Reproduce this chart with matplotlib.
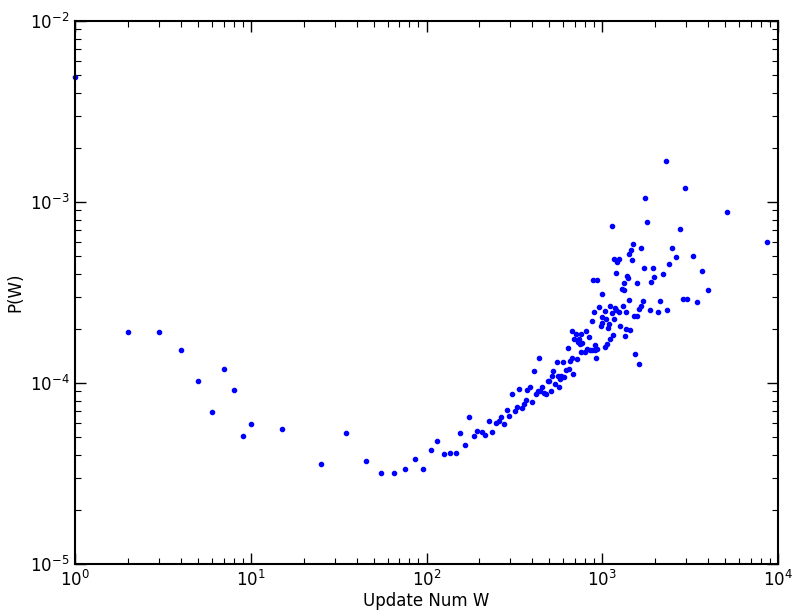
import matplotlib
matplotlib.use("Agg")
import matplotlib.pyplot as plt

# update count W and its estimated probability P(W)
update_num = [
    1, 2, 3, 4, 5, 6, 7, 8, 9, 10, 15, 25, 35, 45, 55, 65, 75, 86, 95,
    106, 115, 126, 136, 147, 156, 165, 175, 186, 195, 206, 216, 226, 236,
    248, 258, 266, 277, 286, 294, 308, 318, 327, 337, 348, 357, 368, 375,
    386, 398, 410, 418, 429, 435, 442, 456, 468, 477, 491, 498, 513, 520,
    527, 536, 551, 560, 567, 573, 583, 600, 606, 622, 635, 644, 653, 670,
    673, 684, 693, 706, 716, 725, 738, 750, 754, 760, 770, 795, 812, 815,
    844, 855, 875, 878, 889, 901, 909, 914, 925, 937, 937, 962, 980, 997,
    997, 1000, 1038, 1042, 1050, 1064, 1074, 1089, 1107, 1112, 1133, 1141,
    1156, 1162, 1167, 1178, 1197, 1203, 1208, 1242, 1251, 1262, 1291, 1307,
    1325, 1325, 1343, 1366, 1366, 1383, 1401, 1427, 1427, 1445, 1465, 1470,
    1496, 1522, 1536, 1570, 1582, 1611, 1625, 1656, 1660, 1698, 1729, 1758,
    1804, 1862, 1892, 1952, 1978, 2066, 2133, 2225, 2296, 2328, 2399, 2506,
    2630, 2760, 2879, 2958, 3034, 3283, 3475, 3696, 3981, 5128, 8626,
]
prob = [
    4.9e-3, 1.92e-4, 1.92e-4, 1.52e-4, 1.03e-4, 6.9e-5, 1.2e-4, 9.2e-5,
    5.1e-5, 5.95e-5, 5.55e-5, 3.55e-5, 5.3e-5, 3.7e-5, 3.2e-5, 3.2e-5,
    3.35e-5, 3.8e-5, 3.35e-5,
    4.27e-5, 4.8e-5, 4.04e-5, 4.08e-5, 4.08e-5, 5.3e-5, 4.53e-5, 6.5e-5,
    5.08e-5, 5.46e-5, 5.38e-5, 5.14e-5, 6.14e-5, 5.38e-5,
    6.04e-5, 6.14e-5, 6.49e-5, 5.96e-5, 7.1e-5, 6.6e-5, 8.67e-5, 6.98e-5,
    7.4e-5, 9.3e-5, 7.27e-5, 7.62e-5, 8.05e-5, 9.2e-5,
    9.46e-5, 7.82e-5, 1.17e-4, 8.67e-5, 9.06e-5, 1.37e-4, 9.06e-5, 9.46e-5,
    8.8e-5, 8.67e-5, 1.02e-4, 1.03e-4, 9.0e-5, 1.09e-4,
    1.17e-4, 9.86e-5, 1.3e-4, 1.09e-4, 9.46e-5, 1.05e-4, 1.09e-4, 1.3e-4,
    1.08e-4, 1.18e-4, 1.56e-4, 1.19e-4, 1.33e-4, 1.94e-4,
    1.37e-4, 1.12e-4, 1.76e-4, 1.87e-4, 1.36e-4, 1.69e-4, 1.75e-4, 1.64e-4,
    1.87e-4, 1.48e-4, 1.67e-4, 1.48e-4, 1.94e-4, 1.54e-4,
    1.79e-4, 1.52e-4, 2.21e-4, 1.53e-4, 3.73e-4, 2.46e-4, 1.52e-4, 1.62e-4,
    1.37e-4, 3.73e-4, 1.54e-4, 2.63e-4, 2.06e-4, 2.32e-4,
    2.14e-4, 3.09e-4, 2.5e-4, 1.58e-4, 2.25e-4, 1.65e-4, 2.02e-4, 2.12e-4,
    1.76e-4, 2.67e-4, 2.44e-4, 7.34e-4,
    1.83e-4, 2.26e-4, 4.84e-4, 2.6e-4, 4.07e-4, 2.53e-4, 4.66e-4, 2.46e-4,
    4.84e-4, 2.06e-4, 3.32e-4, 2.65e-4,
    3.57e-4, 3.27e-4, 1.81e-4, 2.48e-4, 2.0e-4, 3.9e-4, 3.8e-4, 5.18e-4,
    2.88e-4, 1.97e-4, 5.41e-4, 4.76e-4,
    5.88e-4, 2.34e-4, 1.44e-4, 2.34e-4, 3.56e-4, 2.55e-4, 1.28e-4, 5.57e-4,
    2.67e-4, 2.83e-4, 4.3e-4, 1.05e-3,
    7.78e-4, 2.52e-4, 3.62e-4, 4.3e-4, 3.84e-4, 2.48e-4, 2.83e-4, 4.0e-4,
    1.69e-3, 2.52e-4, 4.56e-4, 5.57e-4,
    4.97e-4, 7.12e-4, 2.91e-4, 1.2e-3, 2.91e-4, 5.03e-4, 2.79e-4, 4.18e-4,
    3.27e-4, 8.83e-4, 5.98e-4,
]

fig = plt.figure(figsize=(7.98, 6.15), dpi=100)
ax = fig.add_axes([75 / 798, 1 - 564 / 615, 703 / 798, 543 / 615])

ax.plot(update_num, prob, 'o', color='b', markeredgecolor='b',
        markersize=3, linestyle='none', clip_on=False)

ax.set_xscale('log')
ax.set_yscale('log')
ax.set_xlim(1, 1e4)
ax.set_ylim(1e-5, 1e-2)

ax.set_xlabel('Update Num W', fontsize=12, labelpad=2)
ax.set_ylabel('P(W)', fontsize=12)

ax.tick_params(which='both', direction='in', top=True, right=True,
               labelsize=12)
ax.tick_params(which='major', length=8, width=1, pad=4)
ax.tick_params(which='minor', length=4, width=0.8)
for s in ax.spines.values():
    s.set_linewidth(1.5)

fig.savefig('out.png', dpi=100)
